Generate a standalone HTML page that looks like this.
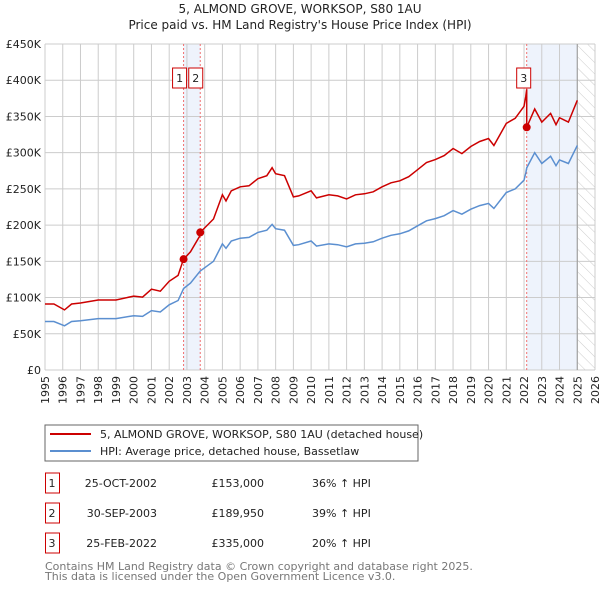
<!DOCTYPE html>
<html><head><meta charset="utf-8"><style>
body{margin:0;background:#fff;font-family:"DejaVu Sans","Liberation Sans",sans-serif;}
svg text{font-family:"DejaVu Sans","Liberation Sans",sans-serif;}
</style></head><body>
<svg id="c" width="600" height="590" xmlns="http://www.w3.org/2000/svg">
<defs><pattern id="hatch" width="8" height="8" patternUnits="userSpaceOnUse" patternTransform="rotate(-45)"><line x1="0" y1="0" x2="0" y2="8" stroke="#ccc" stroke-width="1"/></pattern></defs>
<text x="300" y="13" text-anchor="middle" font-size="12" fill="#222">5, ALMOND GROVE, WORKSOP, S80 1AU</text>
<text x="300" y="29" text-anchor="middle" font-size="12" fill="#222">Price paid vs. HM Land Registry's House Price Index (HPI)</text>
<g id="grid"></g><g id="marks"></g>
<rect x="45" y="425" width="373" height="36" fill="#fff" stroke="#666"/>
<line x1="50" y1="434" x2="91" y2="434" stroke="#cc0000" stroke-width="2"/>
<text x="100" y="438" font-size="11" fill="#222">5, ALMOND GROVE, WORKSOP, S80 1AU (detached house)</text>
<line x1="50" y1="451" x2="91" y2="451" stroke="#5b8fd0" stroke-width="2"/>
<text x="100" y="455" font-size="11" fill="#222">HPI: Average price, detached house, Bassetlaw</text>
<g id="table" font-size="11" fill="#222"></g>
<text x="45" y="570" font-size="11" fill="#777">Contains HM Land Registry data © Crown copyright and database right 2025.</text>
<text x="45" y="580" font-size="11" fill="#777">This data is licensed under the Open Government Licence v3.0.</text>
</svg>
<script>
const hpiYears=[1995,1995.5,1996.1,1996.5,1997,1998,1999,2000,2000.5,2001,2001.5,2002,2002.5,2002.81,2003.2,2003.75,2004.5,2005,2005.2,2005.5,2006,2006.5,2007,2007.5,2007.8,2008,2008.5,2009,2009.3,2010,2010.3,2011,2011.5,2012,2012.5,2013,2013.5,2014,2014.5,2015,2015.5,2016,2016.5,2017,2017.5,2018,2018.5,2019,2019.5,2020,2020.3,2021,2021.5,2022,2022.1,2022.15,2022.6,2023,2023.5,2023.8,2024,2024.5,2025];
const hpiValues=[67000,67000,61000,67000,68000,71000,71000,75000,74000,82000,80000,90000,96000,112500,120000,136700,150000,174000,168000,178000,182000,183000,190000,193000,201000,195000,193000,172000,173000,178000,171000,174000,173000,170000,174000,175000,177000,182000,186000,188000,192000,199000,206000,209000,213000,220000,215000,222000,227000,230000,223000,245000,250000,262000,272000,279000,300000,285000,295000,282000,290000,285000,310000];
const saleDates=[2002.81,2003.75,2022.15];
const salePrices=[153000,189950,335000];
const saleLabels=["1","2","3"];
const saleDateText=["25-OCT-2002","30-SEP-2003","25-FEB-2022"];
const salePriceText=["£153,000","£189,950","£335,000"];
const saleHpiText=["36% ↑ HPI","39% ↑ HPI","20% ↑ HPI"];
const yTicks=[0,50000,100000,150000,200000,250000,300000,350000,400000,450000];
const yTickLabels=["£0","£50K","£100K","£150K","£200K","£250K","£300K","£350K","£400K","£450K"];
const xTicks=[1995,1996,1997,1998,1999,2000,2001,2002,2003,2004,2005,2006,2007,2008,2009,2010,2011,2012,2013,2014,2015,2016,2017,2018,2019,2020,2021,2022,2023,2024,2025,2026];

const NS="http://www.w3.org/2000/svg";
const X0=45,X1=595,Y0=370,Y1=44;
const xs=t=>X0+(t-1995)/(2026-1995)*(X1-X0);
const ys=v=>Y0-v/450000*(Y0-Y1);
function mk(p,tag,a){const e=document.createElementNS(NS,tag);for(const k in a)e.setAttribute(k,a[k]);p.appendChild(e);return e;}
function hpiAt(t){for(let i=1;i<hpiYears.length;i++){if(t<=hpiYears[i]){const f=(t-hpiYears[i-1])/(hpiYears[i]-hpiYears[i-1]);return hpiValues[i-1]+f*(hpiValues[i]-hpiValues[i-1]);}}return hpiValues[hpiValues.length-1];}
const grid=document.getElementById('grid'),marks=document.getElementById('marks');
let b=mk(grid,'rect',{x:xs(saleDates[0]),y:Y1,width:xs(saleDates[1])-xs(saleDates[0]),height:Y0-Y1,fill:'#eef3fc'});

b=mk(grid,'rect',{x:xs(saleDates[2]),y:Y1,width:xs(2025)-xs(saleDates[2]),height:Y0-Y1,fill:'#eef3fc'});

b=mk(grid,'rect',{x:xs(2025),y:Y1,width:X1-xs(2025),height:Y0-Y1,fill:'url(#hatch)'});

yTicks.forEach((v,i)=>{
 const l=mk(grid,'line',{x1:X0,x2:X1,y1:ys(v),y2:ys(v),stroke:'#ccc'});
 
 const t=mk(grid,'text',{x:X0-4,y:ys(v)+4,'text-anchor':'end','font-size':'11',fill:'#222'});t.textContent=yTickLabels[i];
 
});
xTicks.forEach(yr=>{
 const x=xs(yr);
 const l=mk(grid,'line',{x1:x,x2:x,y1:Y1,y2:Y0,stroke:'#ccc'});
 
 const t=mk(grid,'text',{x:x+4,y:Y0+6,'text-anchor':'end','font-size':'11',fill:'#222',transform:`rotate(-90 ${x+4} ${Y0+6})`});t.textContent=yr;
 
});
const vl=mk(grid,'line',{x1:xs(2025),x2:xs(2025),y1:Y1,y2:Y0,stroke:'#999'});

saleDates.forEach((d,i)=>{
 const l=mk(marks,'line',{x1:xs(d),x2:xs(d),y1:Y1,y2:Y0,stroke:'#f07070','stroke-dasharray':'2,2'});
 
});
let pts=hpiYears.map((t,i)=>xs(t).toFixed(1)+','+ys(hpiValues[i]).toFixed(1)).join(' ');
let p=mk(marks,'polyline',{points:pts,fill:'none',stroke:'#5b8fd0','stroke-width':1.5});

function propAt(t){let k=0;for(let i=0;i<saleDates.length;i++)if(t>=saleDates[i])k=i;return salePrices[k]*hpiAt(t)/hpiAt(saleDates[k]);}
let tl=hpiYears.slice();saleDates.forEach(d=>{tl.push(d-0.001);tl.push(d);});tl.sort((a,b)=>a-b);
pts=tl.map(t=>xs(t).toFixed(1)+','+ys(propAt(t)).toFixed(1)).join(' ');
p=mk(marks,'polyline',{points:pts,fill:'none',stroke:'#cc0000','stroke-width':1.5});

const lx=[-4,-4.5,-3];
saleDates.forEach((d,i)=>{
 const c=mk(marks,'circle',{cx:xs(d),cy:ys(salePrices[i]),r:4,fill:'#cc0000'});
 
 const bx=xs(d)+lx[i]-7;
 const r=mk(marks,'rect',{x:bx,y:68,width:14,height:20,fill:'#fff',stroke:'#cc0000'});
 
 const t=mk(marks,'text',{x:bx+7,y:82,'text-anchor':'middle','font-size':'11',fill:'#222'});t.textContent=saleLabels[i];
 
});
const tb=document.getElementById('table');
saleDates.forEach((d,i)=>{
 const y=483+30*i;
 const r=mk(tb,'rect',{x:45.5,y:y-10,width:14,height:20,fill:'#fff',stroke:'#cc0000'});
 
 const vals=[[52,saleLabels[i],'middle'],[157,saleDateText[i],'end'],[264,salePriceText[i],'end'],[312,saleHpiText[i],'start']];
 vals.forEach(v=>{const t=mk(tb,'text',{x:v[0],y:y+4,'text-anchor':v[2]});t.textContent=v[1];
  });
});
</script>
</body></html>
